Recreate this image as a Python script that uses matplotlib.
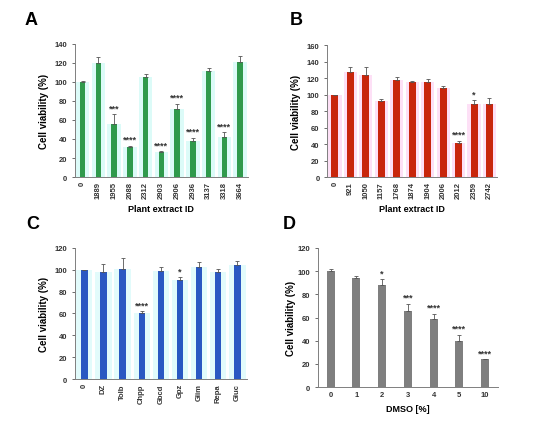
import numpy as np
import matplotlib
matplotlib.use("Agg")
import matplotlib.pyplot as plt

# ======================================================================
# Data
# ======================================================================
A_LABELS = ["0", "1889", "1955", "2088", "2312", "2903", "2906",
            "2936", "3137", "3318", "3664"]
A_VALUES = [100, 120, 56, 32, 105, 26, 72, 38, 111, 42, 121]
A_ERRORS = [1, 6, 10, 1, 3, 1, 5, 3, 4, 5, 6]
A_STARS = ["", "", "***", "****", "", "****", "****", "****", "", "****", ""]

B_LABELS = ["0", "921", "1050", "1157", "1768", "1874", "1904",
            "2006", "2012", "2359", "2742"]
B_VALUES = [100, 127, 124, 92, 118, 115, 115, 108, 41, 88, 88]
B_ERRORS = [0, 6, 10, 3, 3, 2, 4, 3, 3, 5, 8]
B_STARS = ["", "", "", "", "", "", "", "", "****", "*", ""]

C_LABELS = ["0", "DZ", "Tolb", "Chpp", "Gbcd", "Gpz", "Glim", "Repa", "Gluc"]
C_VALUES = [100, 98, 101, 60, 99, 91, 103, 98, 104]
C_ERRORS = [0, 7, 10, 2, 4, 2, 4, 3, 4]
C_STARS = ["", "", "", "****", "", "*", "", "", ""]

D_LABELS = ["0", "1", "2", "3", "4", "5", "10"]
D_VALUES = [100, 94, 88, 66, 59, 40, 24]
D_ERRORS = [2, 2, 5, 6, 4, 5, 0]
D_STARS = ["", "", "*", "***", "****", "****", "****"]

plt.rcParams["font.family"] = ["Liberation Sans", "DejaVu Sans"]

fig = plt.figure(figsize=(5.5, 4.27), dpi=100)


def panel(rect, labels, values, errors, stars, color, ymax, width,
          xlabel=None, rotate=True, shade=None, letter="", letter_xy=(0, 0),
          ypad=4):
    ax = fig.add_axes(rect)
    x = np.arange(len(labels))
    if shade is not None:
        # light halo behind the bars, as in the scanned original
        ax.bar(x, values, width=0.85, color=shade, zorder=0)
    ax.bar(x, values, width=width, color=color, zorder=2)
    ax.errorbar(x, values, yerr=[np.zeros(len(errors)), errors], fmt="none",
                ecolor="#555555", elinewidth=0.6, capsize=1.5, capthick=0.6,
                zorder=3)
    for xi, v, e, s in zip(x, values, errors, stars):
        if s:
            ax.text(xi, v + e + ymax * 0.015, s, ha="center", va="bottom",
                    fontsize=6.5, fontweight="bold", color="#333333")
    ax.set_xlim(-0.5, len(labels) - 0.5)
    ax.set_ylim(0, ymax)
    ax.set_yticks(np.arange(0, ymax + 1, 20))
    ax.set_xticks(x)
    ax.set_xticklabels(labels, rotation=90 if rotate else 0)
    ax.tick_params(axis="both", labelsize=5.5, length=2, width=0.5,
                   colors="#333333")
    ax.tick_params(axis="x", length=0, pad=3)
    for lab in ax.get_xticklabels() + ax.get_yticklabels():
        lab.set_fontweight("bold")
    for side in ["top", "right"]:
        ax.spines[side].set_visible(False)
    for side in ["left", "bottom"]:
        ax.spines[side].set_color("#7f7f7f")
        ax.spines[side].set_linewidth(0.7)
    ax.set_ylabel("Cell viability (%)", fontsize=7, fontweight="bold",
                  labelpad=ypad)
    if xlabel:
        ax.set_xlabel(xlabel, fontsize=6.5, fontweight="bold", labelpad=4)
    fig.text(letter_xy[0], letter_xy[1], letter, fontsize=13,
             fontweight="bold", ha="left", va="center")
    return ax


panel([0.136, 0.583, 0.315, 0.312], A_LABELS, A_VALUES, A_ERRORS, A_STARS,
      "#2f9a4c", 140, 0.35, xlabel="Plant extract ID", shade="#dcfbf8",
      letter="A", letter_xy=(0.045, 0.952))
panel([0.595, 0.583, 0.309, 0.309], B_LABELS, B_VALUES, B_ERRORS, B_STARS,
      "#c8260c", 160, 0.45, xlabel="Plant extract ID", shade="#fde0f6",
      letter="B", letter_xy=(0.527, 0.952))
panel([0.136, 0.110, 0.313, 0.307], C_LABELS, C_VALUES, C_ERRORS, C_STARS,
      "#2a58c2", 120, 0.33, shade="#e2fbfb",
      letter="C", letter_xy=(0.048, 0.474))
panel([0.578, 0.091, 0.327, 0.326], D_LABELS, D_VALUES, D_ERRORS, D_STARS,
      "#7f7f7f", 120, 0.31, xlabel="DMSO [%]", rotate=False,
      letter="D", letter_xy=(0.515, 0.474), ypad=1)

plt.savefig("out.png", dpi=100)
